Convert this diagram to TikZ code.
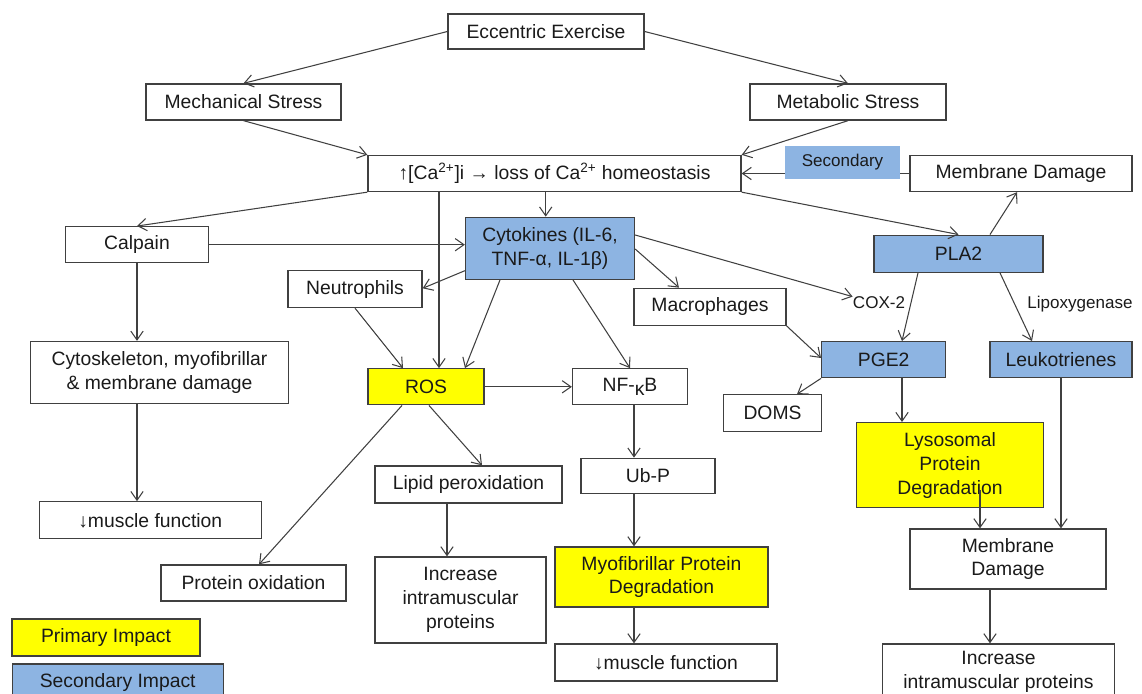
\documentclass[tikz,border=0pt]{standalone}
\usepackage{fontspec}
\setmainfont{Liberation Sans}
\usetikzlibrary{arrows.meta}
\definecolor{lncol}{HTML}{404040}
\definecolor{bl}{HTML}{8DB4E2}
\definecolor{yl}{HTML}{FFFF00}
\definecolor{tx}{HTML}{1A1A1A}
\begin{document}
\begin{tikzpicture}[x=0.02cm,y=-0.02cm,
  box/.style 2 args={draw=lncol, line width=0.75pt, text=tx, inner sep=0pt, align=center,
    minimum width=#1*0.02cm, minimum height=#2*0.02cm, font=\fontsize{11}{13.6}\selectfont},
  bluebox/.style={fill=bl},
  yelbox/.style={fill=yl},
  lbl/.style={text=tx, inner sep=0pt, font=\fontsize{9.7}{11}\selectfont},
  arr/.style={draw=lncol, line width=0.6pt, -{Straight Barb[length=5pt,width=7pt]}}]
\useasboundingbox (0,0) rectangle (1142,693);
\clip (0,0) rectangle (1142,693);
% nodes
\node[box={196}{35}] (ecc) at (546,31.5) {Eccentric Exercise};
\node[box={195}{36}] (mech) at (243.5,102) {Mechanical Stress};
\node[box={196}{36}] (meta) at (848,102) {Metabolic Stress};
\node[box={373}{36}] (ca) at (554.5,173.5) {↑[Ca\textsuperscript{2+}]i → loss of Ca\textsuperscript{2+} homeostasis};
\node[box={222}{36}] (mdt) at (1021,173.5) {Membrane Damage};
\node[box={143}{36}] (calp) at (137,244.7) {Calpain};
\node[box={169}{62},bluebox] (cyto) at (550,248.3) {Cytokines (IL-6,\\TNF-α, IL-1β)};
\node[box={169}{37},bluebox] (pla) at (958.5,253.7) {PLA2};
\node[box={134}{37}] (neut) at (355,289) {Neutrophils};
\node[box={152}{37}] (macro) at (710,306.8) {Macrophages};
\node[lbl] (cox) at (879,303) {COX-2};
\node[lbl] (lipox) at (1080,304) {Lipoxygenase};
\node[box={258}{62}] (cytosk) at (159.5,372.5) {Cytoskeleton, myofibrillar\\\& membrane damage};
\node[box={116}{36},yelbox] (ros) at (426,386.8) {ROS};
\node[box={115}{36}] (nfkb) at (630,386.8) {NF-\raisebox{-0.35ex}{κ}B};
\node[box={124}{36},bluebox] (pge) at (883.7,359.7) {PGE2};
\node[box={142}{36},bluebox] (leuk) at (1061,359.7) {Leukotrienes};
\node[box={98}{37}] (doms) at (772.5,413.3) {DOMS};
\node[box={187}{85},yelbox] (lyso) at (950,465.2) {Lysosomal\\Protein\\Degradation};
\node[box={187}{37}] (lipid) at (468.5,484.5) {Lipid peroxidation};
\node[box={134}{35}] (ubp) at (648,475.8) {Ub-P};
\node[box={222}{37}] (mf1) at (150.3,520.3) {↓muscle function};
\node[box={196}{60}] (mdb) at (1008,559) {Membrane\\Damage};
\node[box={213}{60},yelbox] (myo) at (661.5,577) {Myofibrillar Protein\\Degradation};
\node[box={185}{36}] (prox) at (253.5,583) {Protein oxidation};
\node[box={171}{86}] (inc1) at (460.5,600) {Increase\\intramuscular\\proteins};
\node[box={188}{37},yelbox] (prim) at (106,637.5) {Primary Impact};
\node[box={211}{36},bluebox] (seci) at (117.7,682) {Secondary Impact};
\node[box={222}{37}] (mf2) at (666,662.5) {↓muscle function};
\node[box={232}{56}] (inc2) at (998.5,672) {Increase\\intramuscular proteins};
\coordinate (lysoin) at (980,490);
% connectors
\draw[arr] (ecc.west) -- (mech.north);
\draw[arr] (ecc.east) -- (meta.north);
\draw[arr] (mech.south) -- (ca.north west);
\draw[arr] (meta.south) -- (ca.north east);
\draw[arr] (mdt.west) -- (ca.east);
\draw[arr] (ca.south west) -- (calp.north);
\draw[arr] (ca.south -| 439,0) -- (ros.north -| 439,0);
\draw[arr] (ca.south -| 545.7,0) -- (cyto.north -| 545.7,0);
\draw[arr] (ca.south east) -- (pla.north);
\draw[arr] (pla.north -| 990,0) -- (mdt.south -| 1017,0);
\draw[arr] (calp.east) -- (cyto.west |- calp.east);
\draw[arr] (calp.south) -- (cytosk.north -| calp.south);
\draw[arr] (cytosk.south -| calp.south) -- (mf1.north -| calp.south);
\draw[arr] (cyto.west |- 0,270.7) -- (neut.east |- 0,288.3);
\draw[arr] (cyto.south -| 500,0) -- (ros.north -| 465,0);
\draw[arr] (cyto.south -| 573,0) -- (nfkb.north -| 630,0);
\draw[arr] (cyto.east |- 0,249) -- (macro.north -| 679,0);
\draw[arr] (cyto.east |- 0,235) -- (cox.north west);
\draw[arr] (neut.south -| 355,0) -- (ros.north -| 403,0);
\draw[arr] (ros.east) -- (nfkb.west);
\draw[arr] (ros.south -| 402,0) -- (prox.north -| 259,0);
\draw[arr] (ros.south -| 429,0) -- (lipid.north -| 482,0);
\draw[arr] (lipid.south -| 447,0) -- (inc1.north -| 447,0);
\draw[arr] (nfkb.south -| 634,0) -- (ubp.north -| 634,0);
\draw[arr] (ubp.south -| 634,0) -- (myo.north -| 634,0);
\draw[arr] (myo.south -| 634,0) -- (mf2.north -| 634,0);
\draw[arr] (macro.south east) -- (pge.west |- 0,358);
\draw[arr] (pge.south west) -- (doms.north -| 797,0);
\draw[arr] (pla.south -| 918,0) -- (pge.north -| 902,0);
\draw[arr] (pla.south -| 1000,0) -- (leuk.north -| 1032,0);
\draw[arr] (pge.south -| 902,0) -- (lyso.north -| 902,0);
\draw[arr] (leuk.south -| 1061,0) -- (mdb.north -| 1061,0);
\draw[arr] (lysoin) -- (mdb.north -| lysoin);
\draw[arr] (mdb.south -| 990,0) -- (inc2.north -| 990,0);
% label over the connector
\node[fill=bl, text=tx, inner sep=0pt, minimum width=115*0.02cm, minimum height=33*0.02cm,
  font=\fontsize{9.7}{11}\selectfont] (sec) at (842.5,162.5) {\raisebox{-1.5pt}{Secondary}};
\end{tikzpicture}
\end{document}
